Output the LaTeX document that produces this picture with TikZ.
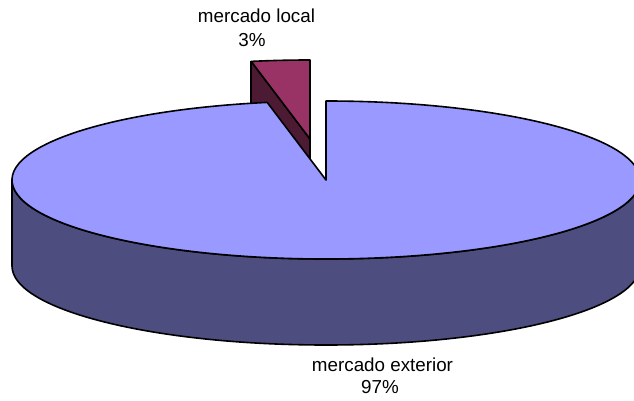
\documentclass[tikz,border=0pt]{standalone}
\usepackage{fontspec}
\setmainfont{Liberation Sans}
\definecolor{topblue}{HTML}{9999FF}
\definecolor{sideblue}{HTML}{4D4D80}
\definecolor{topmaroon}{HTML}{993366}
\definecolor{sidemaroon}{HTML}{4D1A33}
\tikzset{
  face/.style={draw=black, line width=1.6pt, line join=round},
  lbl/.style={anchor=base, inner sep=0pt, font=\fontsize{18.8}{22}\selectfont}
}
\begin{document}
\begin{tikzpicture}[x=1pt,y=1pt]
\useasboundingbox (0,0) rectangle (634,400);
\clip (0,0) rectangle (634,400);
% exploded small slice (mercado local)
\coordinate (sc) at (310,261);
\coordinate (sl) at (251.2,338.6);
\coordinate (scb) at (310,175);
\coordinate (slb) at (251.2,252.6);
\fill[sidemaroon] (sl) -- (sc) -- (scb) -- (slb) -- cycle;
\draw[face] (sl) -- (sc) -- (scb);
\draw[face] (sl) -- (slb);
\filldraw[face, fill=topmaroon] (sc) -- (sl) arc[start angle=100.8, end angle=90, x radius=314pt, y radius=79pt] -- cycle;
% big slice side
\coordinate (bl) at (12,220);
\coordinate (blb) at (12,134);
\coordinate (br) at (640,220);
\filldraw[face, fill=sideblue] (bl) -- (blb) arc[start angle=180, end angle=360, x radius=314pt, y radius=79pt] -- (br) arc[start angle=0, end angle=-180, x radius=314pt, y radius=79pt] -- cycle;
% big slice top
\coordinate (c) at (326,220);
\coordinate (p1) at (267.2,297.6);
\filldraw[face, fill=topblue] (c) -- (p1) arc[start angle=100.8, end angle=450, x radius=314pt, y radius=79pt] -- cycle;
% labels
\node[lbl] (l1) at (256.5,377) {mercado local};
\node[lbl] (l2) at (252,353) {3\%};
\node[lbl] (e1) at (382.5,29) {mercado exterior};
\node[lbl] (e2) at (380,7) {97\%};
\end{tikzpicture}
\end{document}
